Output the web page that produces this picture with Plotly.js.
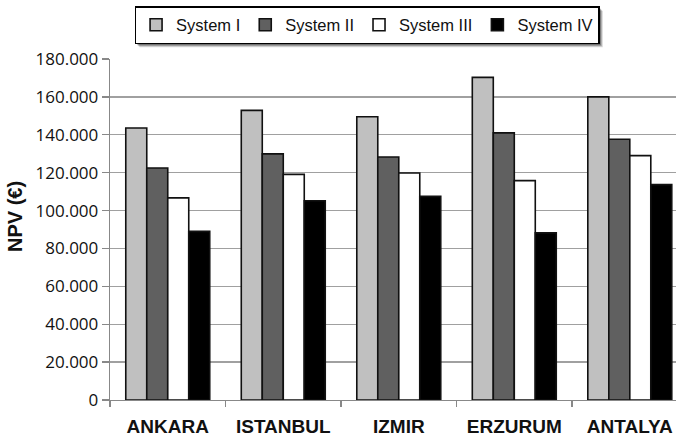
<!DOCTYPE html>
<html>
<head>
<meta charset="utf-8">
<script src="https://cdn.plot.ly/plotly-3.0.1.min.js"></script>
<style>
  html, body { margin: 0; padding: 0; background: #fff; }
  #chart { width: 676px; height: 436px; }
</style>
</head>
<body>
<div id="chart"></div>
<script>
// Net present value of four systems in five Turkish cities (EUR)
const cities = ['ANKARA', 'ISTANBUL', 'IZMIR', 'ERZURUM', 'ANTALYA'];
const systemNames = ['System I', 'System II', 'System III', 'System IV'];

const systemI   = [143600, 152900, 149500, 170300, 160000];
const systemII  = [122500, 129900, 128300, 141000, 137600];
const systemIII = [106700, 119100, 119800, 115800, 129000];
const systemIV  = [89000, 105200, 107500, 88200, 113700];

const yTicks = [0, 20000, 40000, 60000, 80000, 100000, 120000, 140000, 160000, 180000];

const fills = ['#c0c0c0', '#606060', '#ffffff', '#000000'];
const series = [systemI, systemII, systemIII, systemIV];

const traces = series.map((vals, i) => ({
  type: 'bar',
  name: systemNames[i],
  x: cities,
  y: vals,
  marker: { color: fills[i], line: { color: '#111111', width: 1.6 } },
  hoverinfo: 'x+y+name'
}));

const W = 676, H = 436;
const L = 110, R = 0, T = 59, B = 36;
const px = v => (v - L) / (W - L - R);
const py = v => 1 - (v - T) / (H - T - B);

const boldFont = { family: '"Liberation Sans", Arial, sans-serif', color: '#111111', weight: 'bold' };

const layout = {
  width: W, height: H,
  margin: { l: L, r: R, t: T, b: B, pad: 0 },
  paper_bgcolor: '#ffffff',
  plot_bgcolor: '#ffffff',
  separators: ',.',
  barmode: 'group',
  bargap: 0.273,
  bargroupgap: 0,
  font: { family: '"Liberation Sans", Arial, sans-serif', color: '#111111' },
  xaxis: {
    type: 'category',
    range: [-0.5, 4.4],
    tickson: 'boundaries',
    ticks: 'outside', ticklen: 6, tickwidth: 1.3, tickcolor: '#888888',
    showline: true, linecolor: '#888888', linewidth: 1.3,
    showgrid: false,
    tickfont: Object.assign({ size: 19 }, boldFont),
    ticklabelstandoff: 9,
    fixedrange: true
  },
  yaxis: {
    range: [0, 180000],
    tickvals: yTicks,
    tickformat: ',d',
    ticks: 'outside', ticklen: 7, tickwidth: 1.3, tickcolor: '#888888',
    showline: true, linecolor: '#888888', linewidth: 1.3,
    showgrid: true, gridcolor: '#a0a0a0', gridwidth: 1.4,
    zeroline: false,
    tickfont: { family: '"Open Sans", "Liberation Sans", sans-serif', size: 17, color: '#111111' },
    fixedrange: true
  },
  annotations: [{
    text: 'NPV (€)',
    xref: 'paper', yref: 'paper',
    x: px(15), y: py(217),
    xanchor: 'center', yanchor: 'middle',
    textangle: -90,
    showarrow: false,
    font: Object.assign({ size: 20 }, boldFont)
  }],
  legend: {
    orientation: 'h',
    xref: 'container', yref: 'container',
    x: 0.543, xanchor: 'center',
    y: 1 - 6 / H, yanchor: 'top',
    bgcolor: '#ffffff',
    bordercolor: '#000000', borderwidth: 1.5,
    font: { family: '"Liberation Sans", Arial, sans-serif', size: 16.5, color: '#111111' },
    traceorder: 'normal'
  },
  showlegend: true
};

// soft drop shadow, sized from the legend box once it has been laid out
function addLegendShadow(gd) {
  const bg = gd.querySelector('.legend .bg');
  if (!bg) return;
  const host = gd.getBoundingClientRect();
  const r = bg.getBoundingClientRect();
  const x0 = r.left - host.left, x1 = r.right - host.left;
  const y0 = r.top - host.top, y1 = r.bottom - host.top;
  const shadow = [
    { d: 4, op: 0.15 },
    { d: 3, op: 0.22 },
    { d: 2, op: 0.32 }
  ].map(s => ({
    type: 'rect', xref: 'paper', yref: 'paper', layer: 'above',
    x0: px(x0 + s.d), x1: px(x1 + s.d),
    y0: py(y1 + s.d), y1: py(y0 + s.d),
    fillcolor: 'rgba(0,0,0,' + s.op + ')', line: { width: 0 }
  }));
  return Plotly.relayout(gd, { shapes: shadow });
}

Plotly.newPlot('chart', traces, layout, { displayModeBar: false, staticPlot: true })
  .then(addLegendShadow);
</script>
</body>
</html>
